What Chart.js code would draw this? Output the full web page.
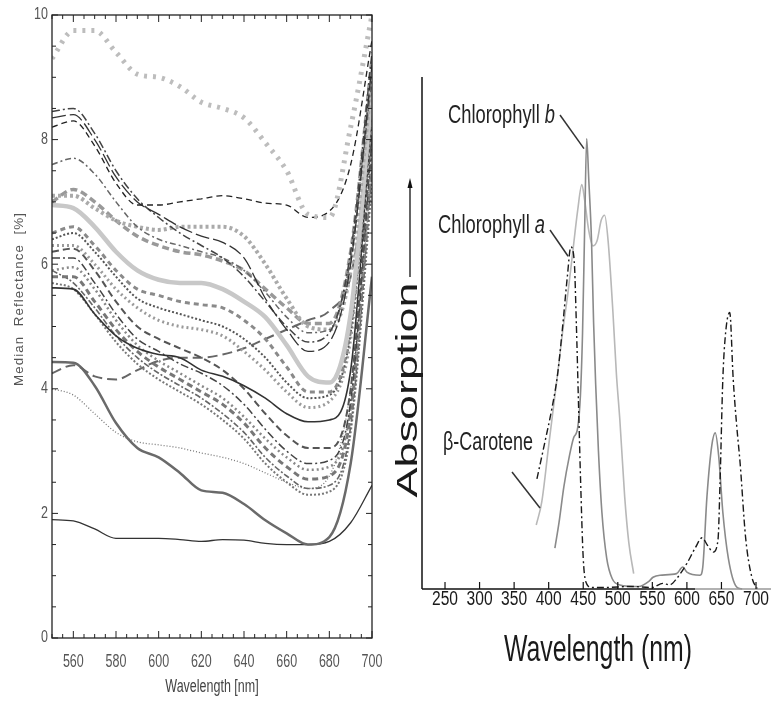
<!DOCTYPE html>
<html>
<head>
<meta charset="utf-8">
<script src="https://cdn.jsdelivr.net/npm/chart.js@4.4.1/dist/chart.umd.min.js"></script>
<style>
html, body { margin: 0; padding: 0; background: #fff; }
#wrap { position: relative; width: 771px; height: 701px; overflow: hidden; }
#left { position: absolute; left: 0; top: 0; }
#right { position: absolute; left: 390px; top: 0; }
</style>
</head>
<body>
<div id="wrap">
  <canvas id="left" width="390" height="701"></canvas>
  <canvas id="right" width="381" height="701"></canvas>
</div>
<script>
// ---- left panel: median reflectance, one value per 10 nm ----
const wl = [550, 560, 570, 580, 590, 600, 610, 620, 630, 640, 650, 660, 670, 680, 690, 700];

const sTop   = [9.3, 9.75, 9.75, 9.4, 9.05, 9.0, 8.85, 8.6, 8.5, 8.35, 7.95, 7.5, 6.8, 6.75, 8.2, 10.0];
const sDashB = [8.2, 8.3, 7.9, 7.3, 6.95, 6.95, 7.0, 7.05, 7.1, 7.05, 6.98, 6.95, 6.75, 6.85, 7.6, 9.6];
const sLong  = [8.35, 8.4, 8.0, 7.4, 7.0, 6.8, 6.6, 6.45, 6.35, 6.1, 5.45, 4.95, 4.6, 4.75, 6.0, 9.2];
const sDd1   = [8.45, 8.5, 8.1, 7.5, 7.05, 6.75, 6.5, 6.3, 6.1, 5.8, 5.4, 5.0, 4.75, 4.9, 6.2, 9.4];
const sDd2   = [7.6, 7.7, 7.45, 7.0, 6.6, 6.4, 6.3, 6.2, 6.1, 5.9, 5.55, 5.15, 4.9, 4.95, 6.1, 9.0];
const sDotG  = [7.1, 7.1, 6.9, 6.7, 6.6, 6.55, 6.6, 6.6, 6.6, 6.45, 6.0, 5.45, 5.0, 4.95, 5.9, 9.0];
const sDashG = [7.0, 7.2, 7.0, 6.7, 6.45, 6.3, 6.2, 6.15, 6.05, 5.9, 5.6, 5.3, 5.05, 5.05, 6.2, 9.3];
const sLight = [6.95, 6.9, 6.6, 6.2, 5.9, 5.75, 5.7, 5.7, 5.6, 5.4, 5.15, 4.7, 4.2, 4.1, 5.2, 8.8];
const sDash5 = [6.5, 6.6, 6.3, 5.9, 5.6, 5.5, 5.4, 5.35, 5.3, 5.1, 4.8, 4.35, 3.95, 3.95, 5.0, 8.7];
const sDotD  = [6.4, 6.5, 6.2, 5.8, 5.45, 5.3, 5.2, 5.1, 5.0, 4.8, 4.5, 4.1, 3.85, 3.9, 4.9, 8.6];
const sDotM  = [6.3, 6.3, 6.0, 5.6, 5.3, 5.1, 5.0, 4.95, 4.85, 4.6, 4.3, 3.95, 3.7, 3.8, 4.8, 8.5];
const sSolid = [5.62, 5.6, 5.2, 4.85, 4.65, 4.55, 4.5, 4.3, 4.2, 4.05, 3.85, 3.6, 3.47, 3.5, 4.3, 8.5];
const sDashD = [6.2, 6.25, 5.9, 5.4, 5.0, 4.8, 4.65, 4.5, 4.3, 4.0, 3.6, 3.25, 3.05, 3.05, 4.0, 8.2];
const sDd3   = [6.1, 6.1, 5.7, 5.2, 4.8, 4.6, 4.4, 4.25, 4.05, 3.75, 3.35, 3.0, 2.8, 2.85, 3.8, 8.0];
const sDot2  = [5.9, 5.95, 5.6, 5.1, 4.7, 4.45, 4.25, 4.05, 3.85, 3.55, 3.2, 2.9, 2.7, 2.75, 3.7, 7.8];
const sBig   = [5.8, 5.8, 5.4, 4.95, 4.6, 4.35, 4.15, 3.95, 3.75, 3.45, 3.05, 2.75, 2.55, 2.6, 3.6, 7.7];
const sDd4   = [5.9, 5.7, 5.3, 4.85, 4.5, 4.25, 4.05, 3.85, 3.6, 3.3, 2.9, 2.6, 2.4, 2.45, 3.4, 7.5];
const sDot3  = [5.7, 5.6, 5.2, 4.75, 4.4, 4.15, 3.95, 3.75, 3.5, 3.2, 2.8, 2.5, 2.3, 2.35, 3.3, 7.3];
const sRise  = [4.25, 4.38, 4.2, 4.15, 4.3, 4.45, 4.5, 4.5, 4.55, 4.65, 4.8, 4.95, 5.1, 5.25, 5.8, 8.0];
const sThinD = [4.0, 3.9, 3.6, 3.3, 3.15, 3.1, 3.05, 2.97, 2.9, 2.8, 2.65, 2.5, 2.4, 2.6, 4.0, 7.5];
const sThick = [4.43, 4.42, 4.05, 3.45, 3.05, 2.9, 2.65, 2.37, 2.33, 2.15, 1.89, 1.68, 1.5, 1.62, 2.8, 5.8];
const sLow   = [1.9, 1.88, 1.75, 1.6, 1.6, 1.6, 1.58, 1.55, 1.58, 1.57, 1.52, 1.5, 1.5, 1.55, 1.85, 2.45];

const leftSeries = [sTop, sDashB, sLong, sDd1, sDd2, sDotG, sDashG, sLight, sDash5, sDotD, sDotM,
                    sSolid, sDashD, sDd3, sDot2, sBig, sDd4, sDot3, sRise, sThinD, sThick, sLow];
const leftStyles = [
  { c: '#bdbdbd', w: 5, d: [3, 6] },  { c: '#222', w: 1.3, d: [6, 4] },
  { c: '#333', w: 1.3, d: [14, 4] },  { c: '#444', w: 1.5, d: [8, 3, 2, 3] },
  { c: '#666', w: 1.5, d: [6, 3, 2, 3] }, { c: '#aaa', w: 4, d: [3, 3] },
  { c: '#999', w: 3.5, d: [7, 4] },   { c: '#c8c8c8', w: 4.5, d: [] },
  { c: '#8a8a8a', w: 3, d: [5, 4] },  { c: '#555', w: 2, d: [2, 2] },
  { c: '#9a9a9a', w: 3, d: [2, 3] },  { c: '#333', w: 1.6, d: [] },
  { c: '#555', w: 2, d: [7, 4] },     { c: '#444', w: 1.5, d: [8, 3, 2, 3] },
  { c: '#888', w: 2.5, d: [2, 3] },   { c: '#777', w: 3, d: [6, 4] },
  { c: '#666', w: 1.6, d: [6, 2, 2, 2] }, { c: '#777', w: 2, d: [2, 2] },
  { c: '#666', w: 2, d: [10, 5] },    { c: '#777', w: 1.3, d: [1, 2] },
  { c: '#6a6a6a', w: 2.5, d: [] },    { c: '#333', w: 1.3, d: [] }
];
const leftXTicks = [560, 580, 600, 620, 640, 660, 680, 700];
const leftYTicks = [0, 2, 4, 6, 8, 10];

// ---- right panel: absorption spectra (nm, relative absorption) ----
const chlA_nm  = [383, 395, 405, 413, 420, 427, 432, 437, 440, 443, 446, 450, 455, 462, 480, 520, 550, 565, 575, 585, 600, 612, 622, 630, 638, 645, 648, 652, 656, 662, 667, 672, 677, 685, 694, 702];
const chlA_abs = [21.5, 29, 35.5, 42, 51, 61, 66.8, 64, 52, 37, 22, 6, 1, 0.3, 0.3, 0.5, 0.3, 1.1, 0.8, 2, 5, 8, 10, 8.5, 7.2, 9.6, 21, 41, 50, 54, 41, 32, 24.6, 10, 2.3, 0];
const chlB_nm  = [409, 415, 422, 430, 436, 442, 446, 449, 452, 455, 458, 462, 465, 468, 472, 477, 484, 492, 503, 530, 545, 551, 561, 585, 594, 600, 619, 623, 629, 636, 641, 646, 652, 660, 672, 680];
const chlB_abs = [8, 13, 20, 26, 29.5, 31.5, 38, 50, 70, 88, 80, 68, 52, 40, 27, 15, 6, 2, 0.8, 0.5, 1.5, 2.3, 2.7, 3, 4.3, 3.3, 2.7, 4.3, 18, 28, 30.5, 26, 15, 6, 0.4, 0];
const car_nm   = [382, 390, 400, 412, 420, 428, 435, 442, 448, 452, 458, 464, 470, 476, 481, 486, 493, 498, 503, 510, 516, 523];
const car_abs  = [12.5, 17, 28, 41, 50, 58, 66, 74, 79, 76, 70, 67, 68, 72, 73, 68, 54, 42, 33, 18, 9, 3];
const rightXTicks = [250, 300, 350, 400, 450, 500, 550, 600, 650, 700];

function pairs(xs, ys) { return xs.map((x, i) => ({ x, y: ys[i] })); }

function txt(ctx, s, x, y, o) {
  ctx.save();
  ctx.translate(x, y);
  if (o.rot) ctx.rotate(o.rot);
  ctx.font = (o.style || '') + ' ' + o.size + 'px ' + (o.family || '"Liberation Sans", Arial, sans-serif');
  if (o.ls) ctx.letterSpacing = o.ls;
  let sx = o.sx || 1;
  if (o.w) sx = o.w / ctx.measureText(s).width;
  ctx.scale(sx, o.sy || 1);
  ctx.fillStyle = o.color || '#222';
  ctx.textAlign = o.align || 'left';
  ctx.textBaseline = o.base || 'alphabetic';
  ctx.fillText(s, 0, 0);
  ctx.restore();
}

function seg(ctx, x1, y1, x2, y2) {
  ctx.beginPath(); ctx.moveTo(x1, y1); ctx.lineTo(x2, y2); ctx.stroke();
}

const leftFrame = {
  id: 'leftFrame',
  afterDraw(chart) {
    const { ctx, chartArea: a, scales: { x, y } } = chart;
    ctx.save();
    ctx.strokeStyle = '#222';
    ctx.lineWidth = 1.3;
    ctx.strokeRect(a.left, a.top, a.right - a.left, a.bottom - a.top);
    ctx.lineWidth = 1;
    for (let v = 550; v <= 700; v += 5) {
      const px = x.getPixelForValue(v);
      const len = (v - 560) % 20 === 0 ? 7 : 4;
      seg(ctx, px, a.bottom, px, a.bottom - len);
      seg(ctx, px, a.top, px, a.top + len);
    }
    for (let v = 0; v <= 10; v += 0.5) {
      const py = y.getPixelForValue(v);
      const len = v % 2 === 0 ? 6 : 4;
      seg(ctx, a.left, py, a.left + len, py);
      seg(ctx, a.right, py, a.right - len, py);
    }
    leftXTicks.forEach(v => txt(ctx, String(v), x.getPixelForValue(v), 662,
      { size: 12.5, sy: 1.45, align: 'center', base: 'middle', color: '#555' }));
    leftYTicks.forEach(v => txt(ctx, String(v), a.left - 4, y.getPixelForValue(v),
      { size: 12.5, sy: 1.3, align: 'right', base: 'middle', color: '#555' }));
    txt(ctx, 'Wavelength [nm]', (a.left + a.right) / 2, 687,
      { size: 12.5, sy: 1.4, align: 'center', base: 'middle', color: '#444' });
    txt(ctx, 'Median  Reflectance  [%]', 20, 299,
      { size: 12.5, rot: -Math.PI / 2, w: 174, align: 'center', base: 'middle', color: '#555', ls: '1px' });
    ctx.restore();
  }
};

const rightDeco = {
  id: 'rightDeco',
  afterDraw(chart) {
    const { ctx, chartArea: a, scales: { x, y } } = chart;
    ctx.save();
    ctx.strokeStyle = '#111';
    ctx.lineWidth = 1.5;
    seg(ctx, a.left, a.top, a.left, a.bottom);
    seg(ctx, a.left, a.bottom, 305, a.bottom);
    ctx.strokeStyle = '#999';
    seg(ctx, 305, a.bottom, a.right, a.bottom);
    ctx.strokeStyle = '#111';
    ctx.lineWidth = 1.2;
    rightXTicks.forEach(v => {
      const px = x.getPixelForValue(v);
      seg(ctx, px, a.bottom, px, a.bottom - 7);
      txt(ctx, String(v), px, 600, { size: 19.5, sx: 0.8, align: 'center', base: 'middle', color: '#1a1a1a' });
    });
    txt(ctx, 'Wavelength (nm)', 208, 651, { size: 37, w: 188, align: 'center', base: 'middle', color: '#1a1a1a' });
    txt(ctx, 'Absorption', 27, 390, { size: 29, rot: -Math.PI / 2, w: 215, align: 'center', color: '#1a1a1a' });
    // arrow next to the axis title
    ctx.lineWidth = 1.3;
    seg(ctx, 20, 277, 20, 184);
    ctx.fillStyle = '#111';
    ctx.beginPath(); ctx.moveTo(20, 178); ctx.lineTo(17.5, 188); ctx.lineTo(22.5, 188); ctx.closePath(); ctx.fill();

    // labels with italic letters
    const lab = (main, ital, lx, by, w) => {
      ctx.save();
      ctx.font = '26px "Liberation Sans", Arial, sans-serif';
      const w1 = ctx.measureText(main).width;
      ctx.font = 'italic 26px "Liberation Sans", Arial, sans-serif';
      const w2 = ctx.measureText(ital).width;
      const sx = w / (w1 + w2);
      ctx.translate(lx, by); ctx.scale(sx, 1);
      ctx.fillStyle = '#222';
      ctx.font = '26px "Liberation Sans", Arial, sans-serif';
      ctx.fillText(main, 0, 0);
      ctx.font = 'italic 26px "Liberation Sans", Arial, sans-serif';
      ctx.fillText(ital, w1, 0);
      ctx.restore();
    };
    lab('Chlorophyll ', 'b', 58, 123, 107);
    lab('Chlorophyll ', 'a', 48, 233, 107);
    txt(ctx, 'β-Carotene', 53, 450, { size: 26, w: 90, color: '#222' });

    ctx.strokeStyle = '#333';
    ctx.lineWidth = 1.5;
    seg(ctx, 170, 115, x.getPixelForValue(454) - 2, y.getPixelForValue(86));
    seg(ctx, 160, 230, x.getPixelForValue(431) - 2, y.getPixelForValue(65));
    seg(ctx, 122, 472, 150, 508);
    ctx.restore();
  }
};

new Chart(document.getElementById('left'), {
  type: 'line',
  data: {
    datasets: leftSeries.map((s, i) => ({
      data: pairs(wl, s),
      borderColor: leftStyles[i].c,
      borderWidth: leftStyles[i].w,
      borderDash: leftStyles[i].d,
      pointRadius: 0,
      fill: false,
      cubicInterpolationMode: 'monotone'
    }))
  },
  options: {
    responsive: false, animation: false, events: [],
    layout: { padding: { top: 15, right: 18, left: 0, bottom: 0 } },
    plugins: { legend: { display: false }, tooltip: { enabled: false } },
    scales: {
      x: { type: 'linear', min: 550, max: 700, grid: { display: false }, border: { display: false },
           ticks: { display: false }, afterFit(s) { s.height = 63; } },
      y: { min: 0, max: 10, grid: { display: false }, border: { display: false },
           ticks: { display: false }, afterFit(s) { s.width = 52; } }
    }
  },
  plugins: [leftFrame]
});

new Chart(document.getElementById('right'), {
  type: 'line',
  data: {
    datasets: [
      { data: pairs(chlA_nm, chlA_abs), borderColor: '#1a1a1a', borderWidth: 1.4, borderDash: [7, 3, 2, 3] },
      { data: pairs(chlB_nm, chlB_abs), borderColor: '#8a8a8a', borderWidth: 1.6 },
      { data: pairs(car_nm, car_abs), borderColor: '#b8b8b8', borderWidth: 1.6 }
    ].map(d => Object.assign(d, { pointRadius: 0, fill: false, cubicInterpolationMode: 'monotone', clip: false }))
  },
  options: {
    responsive: false, animation: false, events: [],
    layout: { padding: { top: 77, right: 0, left: 0, bottom: 0 } },
    plugins: { legend: { display: false }, tooltip: { enabled: false } },
    scales: {
      x: { type: 'linear', min: 216.7, max: 721.7, grid: { display: false }, border: { display: false },
           ticks: { display: false }, afterFit(s) { s.height = 112; } },
      y: { min: 0, max: 100, grid: { display: false }, border: { display: false },
           ticks: { display: false }, afterFit(s) { s.width = 32; } }
    }
  },
  plugins: [rightDeco]
});
</script>
</body>
</html>
